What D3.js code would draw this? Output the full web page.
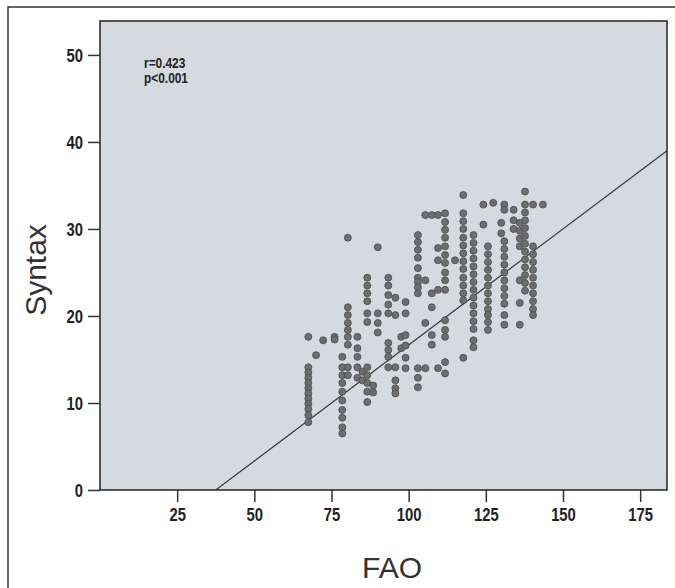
<!DOCTYPE html>
<html>
<head>
<meta charset="utf-8">
<script src="https://cdn.jsdelivr.net/npm/d3@7"></script>
<style>
  body { margin: 0; background: #fff; }
  svg { display: block; }
</style>
</head>
<body>
<svg width="675" height="588"></svg>
<script>
// FAO levels (x) and the Syntax scores stacked in each column (y)
var faoLevels = [67.5, 70, 72.3, 76, 78.5, 80.3, 83.4, 85, 86.6, 88.5, 90,
    93.4, 95.7, 97.6, 99, 103, 105.4, 107.5, 109.5, 111.8, 115, 117.7,
    121, 124.2, 125.7, 127.4, 130, 131, 134, 136, 137.7, 140.3, 143.5];

var syntaxByLevel = [
    [17.6, 14.1, 13.5, 12.9, 12.3, 11.7, 11.1, 10.5, 9.9, 9.3, 8.6, 7.8],
    [15.5],
    [17.2],
    [17.6, 17.3],
    [15.3, 14.1, 13.2, 12.3, 11.3, 10.3, 9.2, 8.3, 7.2, 6.5],
    [29, 21, 20.1, 19.2, 18.4, 17.6, 16.7, 14.1, 13.2],
    [17.6, 16.3, 15.3, 14.1, 12.9],
    [13.6, 12.6],
    [24.4, 23.5, 22.6, 21.7, 20.3, 19.3, 14.1, 13.2, 12.3, 11.3, 10.1],
    [12, 11.2],
    [27.9, 20.3, 19.2, 18.1],
    [24.4, 23.5, 22.4, 21.3, 20.3, 16.9, 16.1, 15.3, 14.1],
    [22.1, 20.1, 14.1, 12.6, 11.7, 11.1],
    [17.6, 16.3],
    [21.6, 20.3, 17.8, 16.6, 15.2, 14],
    [29.3, 28.5, 27.6, 26.7, 25.5, 24.4, 23.9, 23.3, 22.6, 14, 12.9, 11.8],
    [31.6, 24.1, 19.2, 14],
    [31.6, 22.6, 21, 17.8, 16.7],
    [31.6, 27.8, 26.4, 23, 14],
    [31.8, 30.8, 29.9, 29, 28, 27, 26.1, 25, 24.1, 23, 19.5, 18.4, 17.6, 14.7, 13.4],
    [26.4],
    [33.9, 31.8, 30.9, 30, 29, 28.1, 27.2, 26.3, 25.4, 24.4, 23.5, 22.6, 21.8, 15.2],
    [29.3, 28.4, 27.5, 26.6, 25.7, 24.8, 23.9, 23, 22.1, 21.2, 20.3, 19.4, 18.5, 17.2, 16.4],
    [32.8, 30.5],
    [28, 27.1, 26.2, 25.3, 24.4, 23.5, 22.6, 21.7, 20.8, 20.1, 19.3, 18.4],
    [33],
    [30.7, 29.5],
    [32.8, 32.2, 28.6, 27.7, 26.8, 25.9, 25, 24.1, 23.2, 22.3, 21.4, 20.1, 19],
    [32.2, 31, 30],
    [30.7, 29.8, 28.9, 28, 24.1, 21.5, 19],
    [34.3, 32.8, 31.9, 31, 30.1, 29.2, 28.3, 27.4, 26.5, 25.6, 24.7, 23.8, 22.9],
    [32.8, 28, 27.1, 26.2, 25.3, 24.4, 23.5, 22.6, 21.7, 20.8, 20.1],
    [32.8]
];

var xTicks = [25, 50, 75, 100, 125, 150, 175];
var yTicks = [0, 10, 20, 30, 40, 50];

// fit line
var fitSlope = 0.2667, fitIntercept = -10.0;
var statLines = ["r=0.423", "p<0.001"];

function main() {
    var svg = d3.select("svg");
    var left = 100, top = 21, right = 667, bottom = 490;
    var narrow = 0.78; // squeeze for the condensed tick font

    var x = d3.scaleLinear().domain([0, 183.7]).range([left, right]);
    var y = d3.scaleLinear().domain([0, 53.9]).range([bottom, top]);

    // outer frame (left and top edges visible)
    svg.append("path")
        .attr("d", "M8,588 L8,7 L675,7")
        .attr("fill", "none")
        .attr("stroke", "#333")
        .attr("stroke-width", 1.5);

    svg.append("rect")
        .attr("x", left).attr("y", top)
        .attr("width", right - left).attr("height", bottom - top)
        .attr("fill", "#d5dae1");

    var points = [];
    faoLevels.forEach(function(f, i) {
        syntaxByLevel[i].forEach(function(s) { points.push({fao: f, syntax: s}); });
    });

    svg.append("defs").append("clipPath").attr("id", "plot")
        .append("rect")
        .attr("x", left).attr("y", top)
        .attr("width", right - left).attr("height", bottom - top);

    var x0 = -fitIntercept / fitSlope;
    svg.append("line")
        .attr("clip-path", "url(#plot)")
        .attr("x1", x(x0)).attr("y1", y(0))
        .attr("x2", x(183.7)).attr("y2", y(fitSlope * 183.7 + fitIntercept))
        .attr("stroke", "#333")
        .attr("stroke-width", 1.1);

    svg.append("g").selectAll("circle")
        .data(points)
        .enter()
        .append("circle")
        .attr("cx", function(d) { return x(d.fao); })
        .attr("cy", function(d) { return y(d.syntax); })
        .attr("r", 3.5)
        .attr("fill", "#6e6e6e")
        .attr("stroke", "#4a4a4a")
        .attr("stroke-width", 0.8);

    svg.append("rect")
        .attr("x", left).attr("y", top)
        .attr("width", right - left).attr("height", bottom - top)
        .attr("fill", "none")
        .attr("stroke", "#222")
        .attr("stroke-width", 1.5);

    var xAxis = svg.append("g")
        .attr("transform", "translate(0," + bottom + ")")
        .call(d3.axisBottom(x).tickValues(xTicks).tickSize(12).tickPadding(6));
    var yAxis = svg.append("g")
        .attr("transform", "translate(" + left + ",0)")
        .call(d3.axisLeft(y).tickValues(yTicks).tickSize(12).tickPadding(5));

    [xAxis, yAxis].forEach(function(a) {
        a.select(".domain").remove();
        a.selectAll(".tick line").attr("stroke", "#333").attr("stroke-width", 1.5);
        a.selectAll(".tick text")
            .attr("fill", "#222")
            .style("font-family", "'Liberation Sans', Arial, sans-serif")
            .style("font-weight", "bold")
            .style("font-size", "19px");
    });
    xAxis.selectAll(".tick text")
        .attr("transform", "scale(" + narrow + ",1)");
    yAxis.selectAll(".tick text")
        .attr("x", -17 / narrow)
        .attr("transform", "scale(" + narrow + ",1)");

    svg.selectAll(".stat")
        .data(statLines)
        .enter()
        .append("text")
        .attr("transform", function(d, i) { return "translate(144," + (68 + i * 15) + ") scale(0.85,1)"; })
        .attr("fill", "#222")
        .style("font-family", "'Liberation Sans', Arial, sans-serif")
        .style("font-weight", "bold")
        .style("font-size", "14px")
        .text(function(d) { return d; });

    svg.append("text")
        .attr("x", 392)
        .attr("y", 578)
        .attr("text-anchor", "middle")
        .attr("fill", "#333")
        .style("font-family", "'Liberation Sans', Arial, sans-serif")
        .style("font-size", "30px")
        .text("FAO");

    svg.append("text")
        .attr("transform", "translate(46,270) rotate(-90)")
        .attr("text-anchor", "middle")
        .attr("fill", "#333")
        .style("font-family", "'Liberation Sans', Arial, sans-serif")
        .style("font-size", "30px")
        .text("Syntax");
}
main();
</script>
</body>
</html>
